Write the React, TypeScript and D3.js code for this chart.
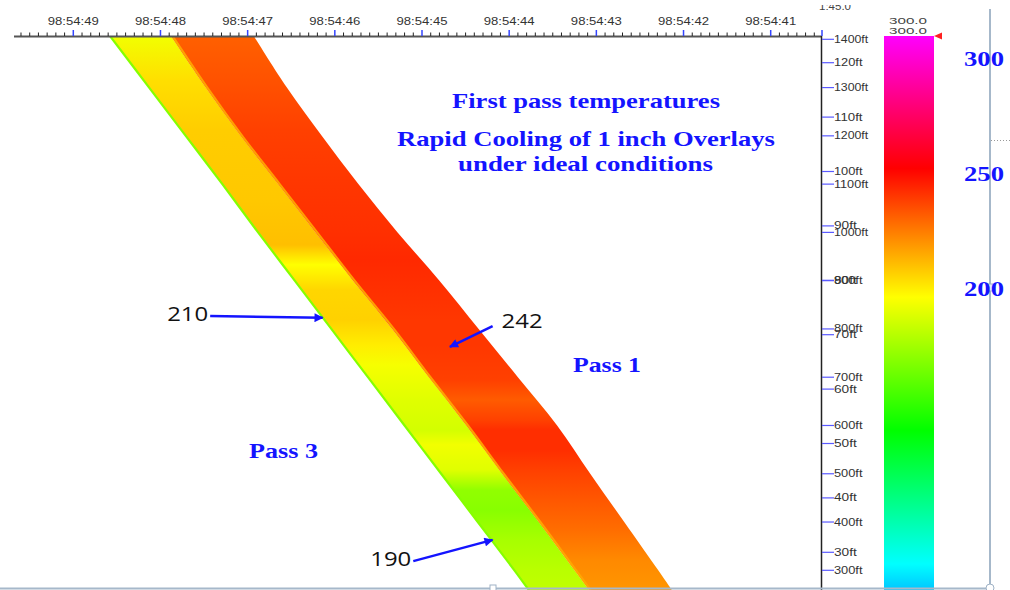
import React from 'react';
import * as d3 from 'd3';

// ---- axis ticks ----
const lonTicks = [49, 48, 47, 46, 45, 44, 43, 42, 41];
const lonTickLabels = ['98:54:49', '98:54:48', '98:54:47', '98:54:46', '98:54:45', '98:54:44', '98:54:43', '98:54:42', '98:54:41'];
const feetTicks = [1400, 1300, 1200, 1100, 1000, 900, 800, 700, 600, 500, 400, 300];
const feetTickLabels = ['1400ft', '1300ft', '1200ft', '1100ft', '1000ft', '900ft', '800ft', '700ft', '600ft', '500ft', '400ft', '300ft'];
const unitTicks = [120, 110, 100, 90, 80, 70, 60, 50, 40, 30];
const unitTickLabels = ['120ft', '110ft', '100ft', '90ft', '80ft', '70ft', '60ft', '50ft', '40ft', '30ft'];
const tempTicks = [300, 250, 200];
const tempTickLabels = ['300', '250', '200'];

// ---- colour bar ----
const colorStopTemps = [310, 252, 196, 138, 80, 69];
const colorStopColors = ['#ff00ff', '#ff0000', '#ffff00', '#00ff00', '#00ffff', '#00c8ff'];

// ---- pass tracks (longitude seconds at depth ft) ----
const trackDepthFt = [1407, 1300, 1200, 1100, 1000, 900, 800, 700, 600, 500, 400, 300, 258];
const pass3LeftSec = [48.58, 48.13, 47.71, 47.29, 46.88, 46.46, 46.04, 45.62, 45.2, 44.78, 44.36, 43.94, 43.77];
const passBoundarySec = [47.88, 47.48, 47.08, 46.65, 46.22, 45.79, 45.34, 44.92, 44.49, 44.08, 43.66, 43.25, 43.08];
const pass1RightSec = [46.93, 46.55, 46.15, 45.73, 45.28, 44.8, 44.35, 43.9, 43.45, 43.07, 42.68, 42.29, 42.13];

// ---- temperatures along each pass ----
const pass3TempFt = [1407, 1316, 1212, 1067, 974, 933, 881, 819, 767, 725, 653, 591, 560, 508, 466, 425, 363, 301, 258];
const pass3Temps = [193, 203, 207, 208, 210, 196, 205, 206, 200, 194, 189, 186, 193, 189, 171, 169, 176, 180, 182];
const pass1TempFt = [1407, 1316, 1212, 1109, 1005, 943, 881, 819, 767, 694, 653, 610, 591, 549, 508, 446, 384, 322, 258];
const pass1Temps = [231, 234, 238, 240, 241.5, 243, 241.5, 240, 240, 238, 232, 238, 242, 242, 238, 233, 228, 222, 219];

// ---- annotations ----
const annotLabels = ['210', '242', '190'];
const annotTipSec = [46.14, 44.68, 44.19];
const annotTipFt = [823, 763, 363];
const annotTailSec = [47.43, 44.19, 45.1];
const annotTailFt = [827, 806, 319];

const W = 1010;
const H = 590;
const BLUE = '#1414ff';

export default function App() {
  const x = d3.scaleLinear().domain([49, 41]).range([73.3, 770.7]);
  const yFt = d3.scaleLinear().domain([1400, 300]).range([39.3, 570.3]);
  const yUnit = d3.scaleLinear().domain([120, 30]).range([62.7, 552.3]);
  const yTemp = d3.scaleLinear().domain([300, 200]).range([58, 288]);
  const color = d3
    .scaleLinear<string>()
    .domain(colorStopTemps)
    .range(colorStopColors)
    .interpolate(d3.interpolateRgb);

  const line = d3
    .line<[number, number]>()
    .x((d) => x(d[0]))
    .y((d) => yFt(d[1]))
    .curve(d3.curveCatmullRom.alpha(0.5));

  const left3 = trackDepthFt.map((f, i) => [pass3LeftSec[i], f] as [number, number]);
  const bound = trackDepthFt.map((f, i) => [passBoundarySec[i], f] as [number, number]);
  const right1 = trackDepthFt.map((f, i) => [pass1RightSec[i], f] as [number, number]);

  const join = (a: [number, number][], b: [number, number][]) =>
    (line(a) || '') + (line(b.slice().reverse()) || '').replace(/^M/, 'L') + 'Z';

  const pass3Poly = join(left3, bound);
  const pass1Poly = join(bound, right1);

  const gTop = yFt(trackDepthFt[0]);
  const gBot = yFt(trackDepthFt[trackDepthFt.length - 1]);
  const stops = (fts: number[], temps: number[]) =>
    fts.map((f, i) => (
      <stop key={i} offset={(yFt(f) - gTop) / (gBot - gTop)} stopColor={color(temps[i])} />
    ));

  const barTop = yTemp(colorStopTemps[0]);
  const barBot = yTemp(colorStopTemps[colorStopTemps.length - 1]);

  const minor = d3
    .range(0, 92)
    .map((i) => +(49.6 - i * 0.1).toFixed(2))
    .filter((v) => Math.abs(v - Math.round(v)) > 0.01);

  const txt = (
    s: string,
    px: number,
    py: number,
    w: number,
    size: number,
    opts: any = {}
  ) => (
    <text
      x={px}
      y={py}
      textLength={w}
      lengthAdjust="spacingAndGlyphs"
      fontSize={size}
      {...opts}
    >
      {s}
    </text>
  );

  return (
    <svg
      width={W}
      height={H}
      style={{ position: 'absolute', left: 0, top: 0, background: '#fff' }}
      fontFamily="'Liberation Sans', Arial, sans-serif"
    >
      <defs>
        <linearGradient id="g3" gradientUnits="userSpaceOnUse" x1={0} y1={gTop} x2={0} y2={gBot}>
          {stops(pass3TempFt, pass3Temps)}
        </linearGradient>
        <linearGradient id="g1" gradientUnits="userSpaceOnUse" x1={0} y1={gTop} x2={0} y2={gBot}>
          {stops(pass1TempFt, pass1Temps)}
        </linearGradient>
        <linearGradient id="gbar" gradientUnits="userSpaceOnUse" x1={0} y1={barTop} x2={0} y2={barBot}>
          {colorStopTemps.map((t, i) => (
            <stop key={i} offset={(yTemp(t) - barTop) / (barBot - barTop)} stopColor={colorStopColors[i]} />
          ))}
        </linearGradient>
        <clipPath id="plot">
          <rect x={0} y={37} width={821} height={H - 37} />
        </clipPath>
        <clipPath id="topcut">
          <rect x={800} y={5} width={80} height={20} />
        </clipPath>
        <marker
          id="arr"
          viewBox="0 0 10 10"
          refX={9}
          refY={5}
          markerWidth={11}
          markerHeight={9}
          markerUnits="userSpaceOnUse"
          orient="auto"
        >
          <path d="M0,0 L10,5 L0,10 Z" fill={BLUE} />
        </marker>
      </defs>

      {/* pass stripes */}
      <g clipPath="url(#plot)">
        <path d={pass3Poly} fill="url(#g3)" />
        <path d={pass1Poly} fill="url(#g1)" />
        <path d={line(left3) || ''} fill="none" stroke="#86ff00" strokeWidth={2.2} />
        <path
          d={line(bound) || ''}
          fill="none"
          stroke="#ffaa00"
          strokeWidth={2.2}
          transform="translate(1.5,0)"
          opacity={0.9}
        />
      </g>

      {/* top axis */}
      <line x1={14} x2={822} y1={36.5} y2={36.5} stroke="#555" strokeWidth={2} />
      {minor.map((v, i) => (
        <line key={i} x1={x(v)} x2={x(v)} y1={32.5} y2={36} stroke="#222" strokeWidth={1} />
      ))}
      {lonTicks.map((v, i) => (
        <g key={v}>
          <line x1={x(v)} x2={x(v)} y1={30} y2={36} stroke="#3344ff" strokeWidth={1.5} />
          {txt(lonTickLabels[i], x(v), 25, 51, 11, { textAnchor: 'middle', fill: '#333' })}
        </g>
      ))}
      <line x1={822} x2={822} y1={30} y2={36} stroke="#3344ff" strokeWidth={1.5} />

      {/* right depth axis */}
      <line x1={821.5} x2={821.5} y1={36} y2={H} stroke="#222" strokeWidth={1.5} />
      <g clipPath="url(#topcut)">
        {txt('1:45.0', 835, 10, 32, 10, { textAnchor: 'middle', fill: '#444' })}
      </g>
      {feetTicks.map((v, i) => (
        <g key={'f' + v}>
          <line x1={822} x2={834} y1={yFt(v)} y2={yFt(v)} stroke="#5a5aff" strokeWidth={1.2} />
          {txt(feetTickLabels[i], 834, yFt(v) + 3.5, feetTickLabels[i].length * 5.7, 10, { fill: '#333' })}
        </g>
      ))}
      {unitTicks.map((v, i) => (
        <g key={'u' + v}>
          <line x1={822} x2={834} y1={yUnit(v)} y2={yUnit(v)} stroke="#5a5aff" strokeWidth={1.2} />
          {txt(unitTickLabels[i], 834, yUnit(v) + 3.5, unitTickLabels[i].length * 5.7, 10, { fill: '#333' })}
        </g>
      ))}

      {/* colour bar */}
      <rect x={884} y={barTop + 1} width={50} height={barBot - barTop} fill="url(#gbar)" />
      {txt('300.0', 908, 23.5, 38, 8.5, { textAnchor: 'middle', fill: '#444' })}
      {txt('300.0', 908, 33.5, 38, 8.5, { textAnchor: 'middle', fill: '#444' })}
      <path d="M934,36 L942,32.5 L942,39.5 Z" fill="#ff2020" />

      {/* right frame */}
      <line x1={990} x2={990} y1={9} y2={588} stroke="#a6b8ca" strokeWidth={2} />
      <line x1={991} x2={1010} y1={140.5} y2={140.5} stroke="#999" strokeWidth={1} strokeDasharray="1,2" />
      <line x1={0} x2={990} y1={588.5} y2={588.5} stroke="#a6b8ca" strokeWidth={2} />
      <rect x={987} y={yTemp(200) - 4} width={6} height={7} fill="#e4edf5" stroke="#9fb2c6" />
      <rect x={490} y={585} width={6} height={6} fill="#fff" stroke="#9fb2c6" />
      <circle cx={990} cy={588} r={4} fill="#fff" stroke="#9fb2c6" />

      {/* temperature labels */}
      {tempTicks.map((t, i) => (
        <g key={'t' + t}>
          {txt(tempTickLabels[i], 964, yTemp(t) + 8, 40, 21, {
            fill: BLUE,
            fontWeight: 'bold',
            fontFamily: "'Liberation Serif', 'Times New Roman', serif",
          })}
        </g>
      ))}

      {/* titles */}
      <g fill={BLUE} fontWeight="bold" fontFamily="'Liberation Serif', 'Times New Roman', serif">
        {txt('First pass temperatures', 452, 108, 268, 21)}
        {txt('Rapid Cooling of 1 inch Overlays', 397, 146, 378, 21)}
        {txt('under ideal conditions', 458, 171, 255, 21)}
        {txt('Pass 1', 573, 372, 68, 21)}
        {txt('Pass 3', 249, 458, 69, 21)}
      </g>

      {/* annotations */}
      {annotLabels.map((s, i) => {
        const tx = x(annotTailSec[i]);
        const ty = yFt(annotTailFt[i]);
        const hx = x(annotTipSec[i]);
        const hy = yFt(annotTipFt[i]);
        const onLeft = hx > tx;
        return (
          <g key={s}>
            <line x1={tx} y1={ty} x2={hx} y2={hy} stroke={BLUE} strokeWidth={2.5} markerEnd="url(#arr)" />
            {txt(s, onLeft ? tx - 2 : tx + 9, ty + (onLeft ? 5 : 2), 41, 20, {
              textAnchor: onLeft ? 'end' : 'start',
              fill: '#111',
              fontFamily: "'Open Sans', 'Liberation Sans', sans-serif",
            })}
          </g>
        );
      })}
    </svg>
  );
}
